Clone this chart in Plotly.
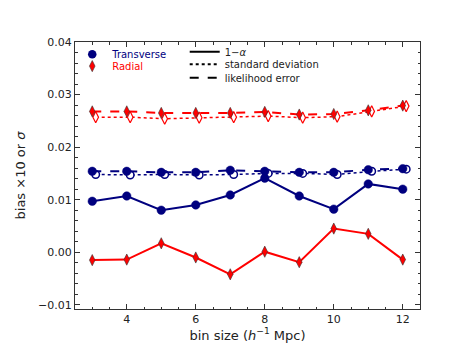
"""Bias and scatter of transverse / radial measurements against bin size."""

import plotly.graph_objects as go

bin_size = [3, 4, 5, 6, 7, 8, 9, 10, 11, 12]
offset = 0.1  # open markers sit slightly to the right

# Transverse
trans_bias = [0.0097, 0.0107, 0.0080, 0.0090, 0.0109, 0.0141, 0.0107, 0.0082, 0.0130, 0.0120]
trans_like = [0.0154, 0.0154, 0.0152, 0.0152, 0.0156, 0.0154, 0.0152, 0.0152, 0.0157, 0.0159]
trans_std = [0.0148, 0.0147, 0.0148, 0.0147, 0.0148, 0.0150, 0.0150, 0.0148, 0.0154, 0.0158]

# Radial
rad_bias = [-0.0015, -0.0014, 0.0017, -0.0010, -0.0042, 0.0001, -0.0019, 0.0045, 0.0035, -0.0014]
rad_like = [0.0268, 0.0268, 0.0265, 0.0265, 0.0265, 0.0267, 0.0262, 0.0263, 0.0270, 0.0279]
rad_std = [0.0257, 0.0257, 0.0254, 0.0256, 0.0257, 0.0259, 0.0256, 0.0258, 0.0268, 0.0278]

NAVY = "#00007f"
RED = "#ff0000"
FONT = "DejaVu Sans"
DIAMOND = 8

x_std = [v + offset for v in bin_size]

fig = go.Figure()


def add(x, y, color, dash, width, symbol, size, fill, edge, edge_w):
    fig.add_trace(
        go.Scatter(
            x=x,
            y=y,
            mode="lines+markers",
            line=dict(color=color, dash=dash, width=width),
            marker=dict(symbol=symbol, size=size, color=fill, line=dict(color=edge, width=edge_w)),
            showlegend=False,
            hoverinfo="skip",
        )
    )


# dotted std with open markers (drawn first, behind)
add(x_std, trans_std, NAVY, "dot", 1.5, "circle", 7.5, "white", NAVY, 1.5)
add(x_std, rad_std, RED, "dot", 1.5, "diamond-tall", DIAMOND, "white", RED, 1.2)
# dashed likelihood error
add(bin_size, trans_like, NAVY, "dash", 2, "circle", 8.5, NAVY, NAVY, 0.5)
add(bin_size, rad_like, RED, "dash", 2, "diamond-tall", DIAMOND, RED, "#333333", 0.6)
# solid bias
add(bin_size, trans_bias, NAVY, "solid", 2, "circle", 8.5, NAVY, NAVY, 0.5)
add(bin_size, rad_bias, RED, "solid", 2, "diamond-tall", DIAMOND, RED, "#333333", 0.6)

# one legend per entry so the rows can sit as tightly as in the original
fig.add_trace(go.Scatter(x=[None], y=[None], mode="markers", name=f'<span style="color:{NAVY}">Transverse</span>',
                         marker=dict(symbol="circle", size=8.5, color=NAVY), legend="legend"))
fig.add_trace(go.Scatter(x=[None], y=[None], mode="markers", name=f'<span style="color:{RED}">Radial</span>',
                         marker=dict(symbol="diamond-tall", size=DIAMOND, color=RED,
                                     line=dict(color="#333333", width=0.6)),
                         legend="legend2"))
styles = (("1\u2212<i>\u03b1</i>", "solid", "legend3"),
          ("standard deviation", "dot", "legend4"),
          ("likelihood error", "dash", "legend5"))
for label, dash, leg in styles:
    fig.add_trace(go.Scatter(x=[None], y=[None], mode="lines", name=label,
                             line=dict(color="black", dash=dash, width=2), legend=leg))

axis_common = dict(
    showgrid=False,
    zeroline=False,
    showline=True,
    linecolor="#333333",
    linewidth=1,
    mirror="allticks",
    ticks="inside",
    ticklen=5,
    tickwidth=1,
    tickcolor="#333333",
    tickfont=dict(family=FONT, size=11, color="#222222"),
)

fig.update_xaxes(
    range=[2.5, 12.5],
    tickvals=[4, 6, 8, 10, 12],
    minor=dict(dtick=0.5, tick0=0, ticks="inside", ticklen=2.5, tickcolor="#333333"),
    title=dict(text="bin size (<i>h</i><sup>\u22121</sup> Mpc)", font=dict(family=FONT, size=13, color="#222222"),
               standoff=4),
    **axis_common,
)
fig.update_yaxes(
    range=[-0.0108, 0.04],
    tickvals=[-0.01, 0.0, 0.01, 0.02, 0.03, 0.04],
    tickformat=".2f",
    minor=dict(dtick=0.002, tick0=0, ticks="inside", ticklen=2.5, tickcolor="#333333"),
    title=dict(text="bias \u00d710 or <i>\u03c3</i>", font=dict(family=FONT, size=13, color="#222222"), standoff=9),
    **axis_common,
)


def legend_box(x, y, size):
    return dict(x=x, y=y, xanchor="left", yanchor="top", bgcolor="rgba(0,0,0,0)",
                font=dict(family=FONT, size=size), itemwidth=30)


fig.update_layout(
    width=458,
    height=343,
    margin=dict(l=57, r=46, t=34, b=35),
    paper_bgcolor="white",
    plot_bgcolor="white",
    font=dict(family=FONT, size=11, color="#222222"),
    legend=legend_box(-0.008, 1.008, 10),
    legend2=legend_box(-0.008, 0.964, 10),
    legend3=legend_box(0.318, 1.018, 10),
    legend4=legend_box(0.318, 0.971, 10),
    legend5=legend_box(0.318, 0.920, 10),
)

fig.write_html("out.html")
